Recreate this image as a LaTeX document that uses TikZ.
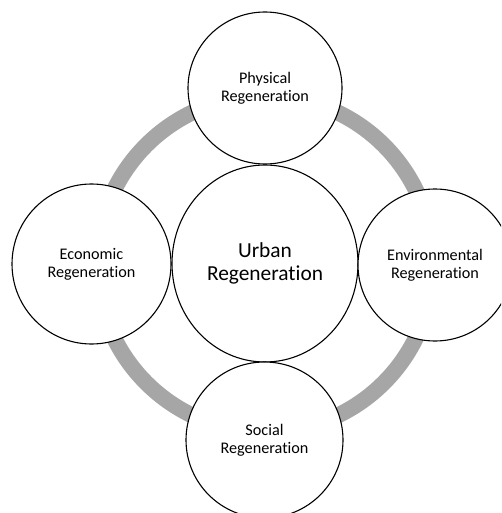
\documentclass[tikz,border=0pt]{standalone}
\usepackage{fontspec}
\setmainfont{Carlito}[Ligatures=NoCommon]
\usetikzlibrary{shapes.geometric}
\definecolor{ringgray}{RGB}{166,166,166}
\tikzset{
  bubble/.style={ellipse, draw=black, line width=1.1pt, fill=white,
    inner sep=0pt, align=center,
    font=\fontsize{16.2}{17.7}\selectfont},
  hub/.style={bubble, font=\fontsize{21.4}{23.7}\selectfont},
}
\begin{document}
\begin{tikzpicture}[x=1pt, y=-1pt]
  \useasboundingbox (0,0) rectangle (501,513);
  \clip (0,0) rectangle (501,513);
  % linking ring behind the bubbles
  \draw[ringgray, line width=16pt] (265,264) circle[radius=168];
  % central theme
  \node[hub, minimum width=186pt, minimum height=197pt] (urban) at (265,263.5)
    {Urban\\Regeneration};
  % the four dimensions
  \node[bubble, minimum width=154pt, minimum height=152pt] (physical) at (265,88)
    {Physical\\Regeneration};
  \node[bubble, minimum width=159pt, minimum height=160pt] (economic) at (91.5,264)
    {Economic\\Regeneration};
  \node[bubble, minimum width=154pt, minimum height=152pt] (environmental) at (435,265)
    {Environmental\\Regeneration};
  \node[bubble, minimum width=157pt, minimum height=156pt] (social) at (264.5,440)
    {Social\\Regeneration};
\end{tikzpicture}
\end{document}
